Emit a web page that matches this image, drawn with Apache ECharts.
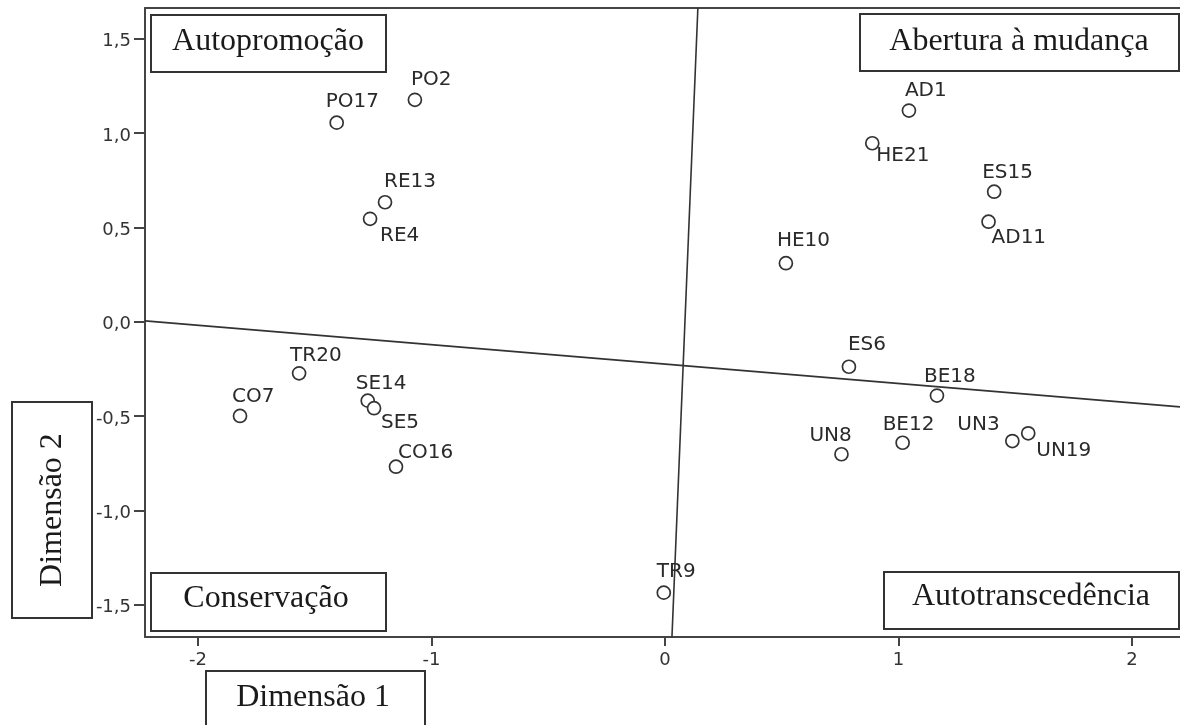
<!DOCTYPE html>
<html><head><meta charset="utf-8">
<script src="https://cdn.jsdelivr.net/npm/echarts@6/dist/echarts.min.js"></script>
<style>html,body{margin:0;padding:0;background:#fff}#c{width:1180px;height:725px}</style>
</head><body><div id="c"></div>
<script>
// ---- data ----
const pointNames = ['PO17','PO2','RE13','RE4','AD1','HE21','ES15','AD11','HE10','TR20','CO7','SE14','SE5','CO16','ES6','BE18','BE12','UN8','UN3','UN19','TR9'];
const dim1 = [-1.406,-1.071,-1.199,-1.263,1.045,0.888,1.410,1.386,0.518,-1.567,-1.820,-1.273,-1.246,-1.152,0.788,1.165,1.018,0.756,1.488,1.556,-0.005];
const dim2 = [1.055,1.176,0.633,0.545,1.119,0.946,0.689,0.530,0.310,-0.274,-0.500,-0.419,-0.459,-0.769,-0.239,-0.392,-0.642,-0.703,-0.633,-0.592,-1.437];
const xTicks = [-2,-1,0,1,2];
const yTicks = [-1.5,-1.0,-0.5,0.0,0.5,1.0,1.5];
const quadrantLabels = ['Autopromoção','Abertura à mudança','Conservação','Autotranscedência'];
const axisNames = ['Dimensão 1','Dimensão 2'];
const lineAx = [-2.227, 2.206];   // reference line 1 (x ends)
const lineAy = [0.004, -0.452];
const lineBx = [0.141, 0.030];    // reference line 2 (x ends)
const lineBy = [1.663, -1.672];

// ---- style (label placement, pixel offsets) ----
const labelOffsets = {
  PO17:[-11,-21], PO2:[-4,-20], RE13:[-1,-20], RE4:[10,17], AD1:[-4,-20], HE21:[4,13],
  ES15:[-12,-19], AD11:[3,16], HE10:[-9,-22], TR20:[-9,-18], CO7:[-8,-19], SE14:[-12,-17],
  SE5:[7,15], CO16:[2,-14], ES6:[-1,-22], BE18:[-13,-19], BE12:[-20,-18], UN8:[-32,-18],
  UN3:[-55,-16], UN19:[8,17], TR9:[-7,-21]
};

const pts = pointNames.map((n,i)=>({name:n, value:[dim1[i], dim2[i]], label:{offset: labelOffsets[n]}}));
const serif = '32px "Liberation Serif", "Times New Roman", serif';

function box(x,y,w,h,text,cx,cy,rot){
  return [
    {type:'rect', shape:{x:x,y:y,width:w,height:h}, style:{fill:'#fff', stroke:'#333', lineWidth:2}, z:100},
    {type:'text', x:cx, y:cy, rotation: rot||0, style:{text:text, font:serif, fill:'#1a1a1a', align:'center', verticalAlign:'middle'}, z:101}
  ];
}

const chart = echarts.init(document.getElementById('c'), null, {renderer:'canvas'});
chart.setOption({
  animation:false,
  backgroundColor:'#fff',
  grid:{left:145, top:8, right:0, bottom:88, show:false},
  xAxis:[{type:'value', min:-2.227, max:2.206, splitLine:{show:false},
    axisLine:{show:true, onZero:false, lineStyle:{color:'#444', width:2}},
    axisTick:{show:true, length:9, customValues:xTicks, lineStyle:{color:'#444', width:2}},
    axisLabel:{customValues:xTicks, margin:14, color:'#333', fontFamily:'DejaVu Sans', fontSize:18,
      formatter:v=>String(Math.round(v))}},
    {type:'value', position:'top', min:-2.227, max:2.206, splitLine:{show:false},
     axisLine:{show:true, onZero:false, lineStyle:{color:'#444', width:2}},
     axisTick:{show:false}, axisLabel:{show:false}}],
  yAxis:{type:'value', min:-1.672, max:1.663, splitLine:{show:false},
    axisLine:{show:true, onZero:false, lineStyle:{color:'#444', width:2}},
    axisTick:{show:true, length:11, customValues:yTicks, lineStyle:{color:'#444', width:2}},
    axisLabel:{customValues:yTicks, margin:14, color:'#333', fontFamily:'DejaVu Sans', fontSize:18,
      formatter:v=>'{a|'+v.toFixed(1).replace('.', ',')+'}',
      rich:{a:{padding:[6,0,0,0], color:'#333', fontFamily:'DejaVu Sans', fontSize:18}}}},
  series:[
    {type:'line', data:lineAx.map((x,i)=>[x,lineAy[i]]), symbol:'none', lineStyle:{color:'#333', width:1.6}, z:1, silent:true},
    {type:'line', data:lineBx.map((x,i)=>[x,lineBy[i]]), symbol:'none', lineStyle:{color:'#333', width:1.6}, z:1, silent:true},
    {type:'scatter', data:pts, symbol:'circle', symbolSize:13, z:5,
      itemStyle:{color:'#fff', borderColor:'#333', borderWidth:1.7, opacity:1},
      label:{show:true, position:'inside', align:'left', verticalAlign:'middle', formatter:'{b}',
        color:'#2a2a2a', fontFamily:'DejaVu Sans', fontSize:20}}
  ],
  graphic:[].concat(
    box(151,15,235,57,quadrantLabels[0],268,41.5),
    box(860,14,319,57,quadrantLabels[1],1019,41.5),
    box(151,573,235,58,quadrantLabels[2],266,599),
    box(884,572,295,57,quadrantLabels[3],1031,597),
    box(206,671,219,70,axisNames[0],313,697.5),
    box(12,402,80,216,axisNames[1],52.5,510,Math.PI/2)
  )
});
</script></body></html>
